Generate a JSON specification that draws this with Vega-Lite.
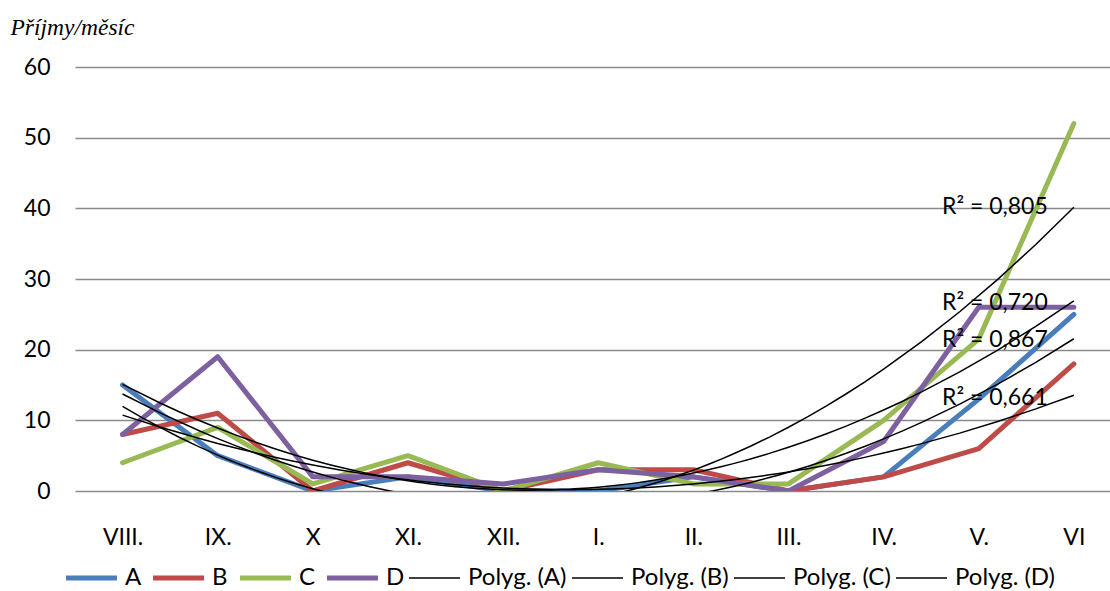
{
  "$schema": "https://vega.github.io/schema/vega-lite/v6.json",
  "width": 1035,
  "height": 424,
  "autosize": {"type": "none"},
  "padding": {"left": 75, "top": 67, "right": 0, "bottom": 100},
  "background": "white",
  "config": {"view": {"stroke": null}, "font": "Lato"},
  "datasets": {
    "series": [
      {"m": "VIII.", "i": 1, "s": "A", "trend": "Polyg. (A)", "v": 15},
      {"m": "IX.", "i": 2, "s": "A", "trend": "Polyg. (A)", "v": 5},
      {"m": "X", "i": 3, "s": "A", "trend": "Polyg. (A)", "v": 0},
      {"m": "XI.", "i": 4, "s": "A", "trend": "Polyg. (A)", "v": 2},
      {"m": "XII.", "i": 5, "s": "A", "trend": "Polyg. (A)", "v": 0},
      {"m": "I.", "i": 6, "s": "A", "trend": "Polyg. (A)", "v": 0},
      {"m": "II.", "i": 7, "s": "A", "trend": "Polyg. (A)", "v": 2},
      {"m": "III.", "i": 8, "s": "A", "trend": "Polyg. (A)", "v": 0},
      {"m": "IV.", "i": 9, "s": "A", "trend": "Polyg. (A)", "v": 2},
      {"m": "V.", "i": 10, "s": "A", "trend": "Polyg. (A)", "v": 13},
      {"m": "VI", "i": 11, "s": "A", "trend": "Polyg. (A)", "v": 25},
      {"m": "VIII.", "i": 1, "s": "B", "trend": "Polyg. (B)", "v": 8},
      {"m": "IX.", "i": 2, "s": "B", "trend": "Polyg. (B)", "v": 11},
      {"m": "X", "i": 3, "s": "B", "trend": "Polyg. (B)", "v": 0},
      {"m": "XI.", "i": 4, "s": "B", "trend": "Polyg. (B)", "v": 4},
      {"m": "XII.", "i": 5, "s": "B", "trend": "Polyg. (B)", "v": 0},
      {"m": "I.", "i": 6, "s": "B", "trend": "Polyg. (B)", "v": 3},
      {"m": "II.", "i": 7, "s": "B", "trend": "Polyg. (B)", "v": 3},
      {"m": "III.", "i": 8, "s": "B", "trend": "Polyg. (B)", "v": 0},
      {"m": "IV.", "i": 9, "s": "B", "trend": "Polyg. (B)", "v": 2},
      {"m": "V.", "i": 10, "s": "B", "trend": "Polyg. (B)", "v": 6},
      {"m": "VI", "i": 11, "s": "B", "trend": "Polyg. (B)", "v": 18},
      {"m": "VIII.", "i": 1, "s": "C", "trend": "Polyg. (C)", "v": 4},
      {"m": "IX.", "i": 2, "s": "C", "trend": "Polyg. (C)", "v": 9},
      {"m": "X", "i": 3, "s": "C", "trend": "Polyg. (C)", "v": 1},
      {"m": "XI.", "i": 4, "s": "C", "trend": "Polyg. (C)", "v": 5},
      {"m": "XII.", "i": 5, "s": "C", "trend": "Polyg. (C)", "v": 0},
      {"m": "I.", "i": 6, "s": "C", "trend": "Polyg. (C)", "v": 4},
      {"m": "II.", "i": 7, "s": "C", "trend": "Polyg. (C)", "v": 1},
      {"m": "III.", "i": 8, "s": "C", "trend": "Polyg. (C)", "v": 1},
      {"m": "IV.", "i": 9, "s": "C", "trend": "Polyg. (C)", "v": 10},
      {"m": "V.", "i": 10, "s": "C", "trend": "Polyg. (C)", "v": 21.5},
      {"m": "VI", "i": 11, "s": "C", "trend": "Polyg. (C)", "v": 52},
      {"m": "VIII.", "i": 1, "s": "D", "trend": "Polyg. (D)", "v": 8},
      {"m": "IX.", "i": 2, "s": "D", "trend": "Polyg. (D)", "v": 19},
      {"m": "X", "i": 3, "s": "D", "trend": "Polyg. (D)", "v": 2},
      {"m": "XI.", "i": 4, "s": "D", "trend": "Polyg. (D)", "v": 2},
      {"m": "XII.", "i": 5, "s": "D", "trend": "Polyg. (D)", "v": 1},
      {"m": "I.", "i": 6, "s": "D", "trend": "Polyg. (D)", "v": 3},
      {"m": "II.", "i": 7, "s": "D", "trend": "Polyg. (D)", "v": 2},
      {"m": "III.", "i": 8, "s": "D", "trend": "Polyg. (D)", "v": 0},
      {"m": "IV.", "i": 9, "s": "D", "trend": "Polyg. (D)", "v": 7},
      {"m": "V.", "i": 10, "s": "D", "trend": "Polyg. (D)", "v": 26},
      {"m": "VI", "i": 11, "s": "D", "trend": "Polyg. (D)", "v": 26}
    ],
    "labels": [
      {"label": "R² = 0,805", "i": 10.17, "v": 40.2},
      {"label": "R² = 0,720", "i": 10.17, "v": 26.6},
      {"label": "R² = 0,867", "i": 10.17, "v": 21.3},
      {"label": "R² = 0,661", "i": 10.17, "v": 13.2}
    ]
  },
  "encoding": {
    "x": {
      "field": "i",
      "type": "quantitative",
      "scale": {"domain": [0.5, 11.38], "nice": false, "zero": false},
      "axis": {
        "values": [1, 2, 3, 4, 5, 6, 7, 8, 9, 10, 11],
        "labelExpr": "['VIII.','IX.','X','XI.','XII.','I.','II.','III.','IV.','V.','VI'][datum.value-1]",
        "labelFont": "Lato",
        "labelFontSize": 23,
        "labelColor": "black",
        "labelBaseline": "middle",
        "labelPadding": 46,
        "labelFlush": false,
        "labelOverlap": false,
        "ticks": false,
        "domain": false,
        "grid": false,
        "title": null
      }
    },
    "y": {
      "field": "v",
      "type": "quantitative",
      "scale": {"domain": [0, 60], "nice": false},
      "axis": {
        "values": [0, 10, 20, 30, 40, 50, 60],
        "labelFont": "Lato",
        "labelFontSize": 23,
        "labelColor": "black",
        "labelPadding": 25,
        "ticks": false,
        "domain": false,
        "grid": true,
        "gridColor": "#8a8a8a",
        "gridWidth": 1.5,
        "title": "Příjmy/měsíc",
        "titleAngle": 0,
        "titleAlign": "left",
        "titleBaseline": "middle",
        "titleX": -65,
        "titleY": -40,
        "titleFont": "Liberation Serif",
        "titleFontStyle": "italic",
        "titleFontWeight": "normal",
        "titleFontSize": 23.5,
        "titleColor": "black"
      }
    }
  },
  "layer": [
    {
      "data": {"name": "series"},
      "mark": {"type": "line", "strokeWidth": 5, "strokeJoin": "round", "strokeCap": "round", "clip": true},
      "encoding": {
        "color": {
          "field": "s",
          "type": "nominal",
          "scale": {
            "domain": ["A", "B", "C", "D", "Polyg. (A)", "Polyg. (B)", "Polyg. (C)", "Polyg. (D)"],
            "range": ["#4A7EBB", "#BE4B48", "#98B954", "#7D60A0", "black", "black", "black", "black"]
          },
          "legend": {
            "title": null,
            "orient": "none",
            "direction": "horizontal",
            "columns": 8,
            "legendX": 4.5,
            "legendY": 499,
            "padding": 0,
            "symbolType": "stroke",
            "symbolSize": 2600,
            "symbolStrokeWidth": 4,
            "labelFont": "Lato",
            "labelFontSize": 24,
            "labelColor": "black",
            "labelOffset": 21.5,
            "columnPadding": 1,
            "encode": {
              "symbols": {
                "update": {
                  "strokeWidth": {"signal": "datum.index >= 4 ? 1.5 : 5"}
                }
              }
            }
          }
        }
      }
    },
    {
      "data": {"name": "series"},
      "transform": [
        {"regression": "v", "on": "i", "groupby": ["trend"], "method": "poly", "order": 2}
      ],
      "mark": {"type": "line", "strokeWidth": 1.5, "clip": true},
      "encoding": {
        "color": {
          "field": "trend",
          "type": "nominal"
        }
      }
    },
    {
      "data": {"name": "labels"},
      "mark": {"type": "text", "font": "Lato", "fontSize": 23, "color": "black", "align": "center", "baseline": "middle"},
      "encoding": {
        "text": {"field": "label", "type": "nominal"}
      }
    }
  ]
}
